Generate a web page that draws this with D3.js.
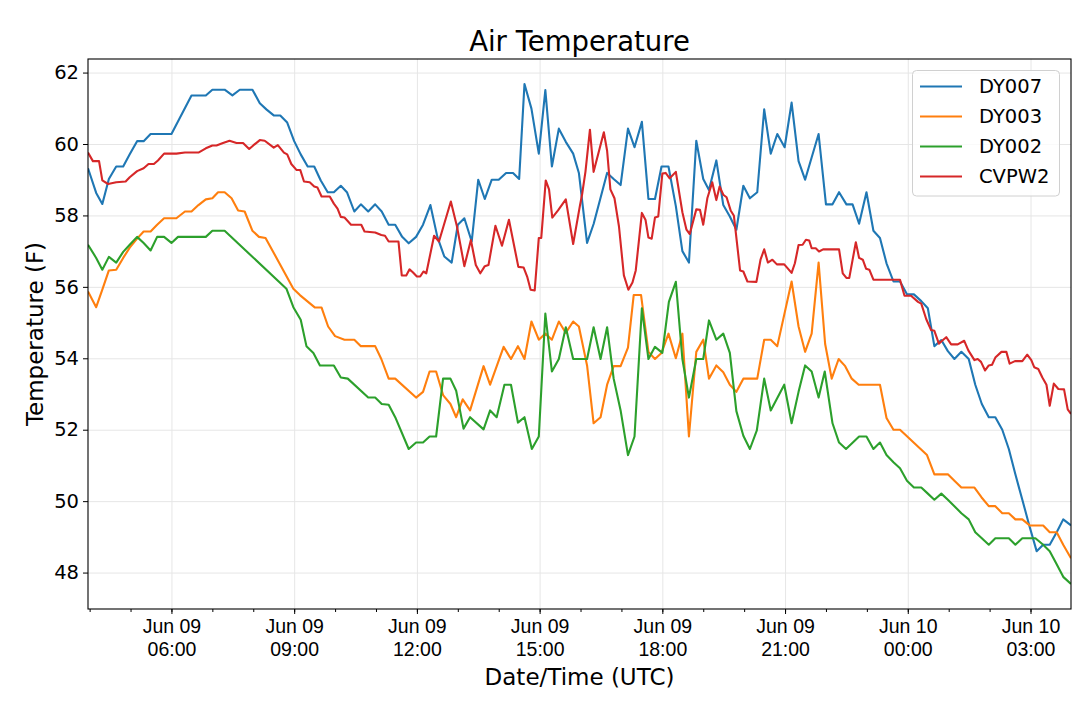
<!DOCTYPE html>
<html>
<head>
<meta charset="utf-8">
<script src="https://cdn.jsdelivr.net/npm/d3@7"></script>
<style>
  body { margin: 0; background: #fff; }
  svg { font-family: "DejaVu Sans", sans-serif; }
</style>
</head>
<body>
<svg width="1080" height="704"></svg>
<script>
// hours after 00:00 UTC Jun 09, temperature in F
var dy007 = [
  [3.96,59.32],[4.16,58.63],[4.31,58.32],[4.47,59.02],[4.65,59.37],[4.82,59.37],[4.98,59.71],[5.16,60.08],[5.32,60.08],[5.49,60.28],[6.0,60.28],[6.49,61.36],[6.84,61.36],[7.0,61.52],
  [7.3,61.52],[7.49,61.36],[7.67,61.52],[7.98,61.52],[8.16,61.14],[8.32,60.97],[8.5,60.8],[8.66,60.8],[8.83,60.6],[9.0,60.08],[9.16,59.71],[9.33,59.37],[9.49,59.37],[9.65,58.98],[9.82,58.65],[9.97,58.65],[10.14,58.83],
  [10.29,58.65],[10.47,58.11],[10.63,58.31],[10.81,58.11],[10.98,58.31],[11.14,58.11],[11.31,57.74],[11.47,57.74],[11.64,57.4],[11.8,57.22],[11.98,57.4],[12.15,57.74],[12.33,58.29],[12.5,57.4],[12.67,56.85],[12.85,56.68],[13.0,57.74],[13.16,57.92],
  [13.34,57.27],[13.5,59.0],[13.66,58.46],[13.83,59.0],[14.0,59.0],[14.18,59.19],[14.35,59.19],[14.5,59.02],[14.63,61.68],[14.8,60.99],[14.98,59.73],[15.14,61.51],[15.3,59.37],[15.47,60.43],[15.64,60.06],[15.82,59.73],[15.96,59.19],
  [16.16,57.23],[16.32,57.76],[16.65,59.19],[16.81,59.02],[16.98,58.85],[17.16,60.43],[17.32,59.91],[17.5,60.62],[17.66,58.46],[17.82,58.46],[17.98,59.37],[18.15,59.37],[18.33,58.26],[18.49,57.0],[18.65,56.68],[18.83,60.09],[19.0,59.02],
  [19.14,58.71],[19.32,59.54],[19.49,58.29],[19.65,57.97],[19.81,57.6],[19.98,58.83],[20.14,58.48],[20.32,58.65],[20.49,60.97],[20.65,59.73],[20.81,60.28],[20.99,59.91],[21.16,61.16],[21.33,59.52],[21.49,59.0],[21.65,59.62],[21.82,60.28],[22.0,58.31],
  [22.16,58.31],[22.32,58.65],[22.5,58.31],[22.65,58.31],[22.81,57.77],[22.99,58.65],[23.16,57.57],[23.32,57.37],[23.48,56.66],[23.65,56.15],[23.81,56.15],[23.98,55.79],[24.15,55.79],[24.33,55.6],[24.49,55.4],[24.65,54.34],[24.82,54.51],
  [24.98,54.2],[25.14,53.98],[25.31,54.18],[25.49,53.98],[25.65,53.26],[25.81,52.72],[25.98,52.35],[26.14,52.35],[26.31,52.0],[26.47,51.46],[26.63,50.75],[26.8,50.04],[26.97,49.32],[27.15,48.6],[27.31,48.78],[27.47,48.78],[27.64,49.13],[27.8,49.49],[27.99,49.32]
];

var dy003 = [
  [3.96,55.87],[4.16,55.43],[4.31,55.92],[4.47,56.46],[4.65,56.48],[4.82,56.81],[4.98,57.1],[5.16,57.35],[5.32,57.55],[5.49,57.55],[5.65,57.74],[5.82,57.92],[6.12,57.92],[6.33,58.11],[6.49,58.11],[6.66,58.29],[6.84,58.45],[7.0,58.48],[7.14,58.65],
  [7.3,58.65],[7.47,58.48],[7.63,58.14],[7.79,58.11],[7.98,57.57],[8.14,57.4],[8.3,57.37],[8.98,55.95],[9.14,55.77],[9.51,55.42],[9.67,55.42],[9.83,54.89],[10.0,54.62],
  [10.23,54.52],[10.47,54.52],[10.63,54.34],[10.98,54.34],[11.13,53.98],[11.31,53.43],[11.47,53.43],[11.98,52.9],[12.15,53.06],[12.31,53.63],[12.47,53.63],[12.64,52.97],[12.82,52.72],[12.96,52.35],[13.12,52.85],
  [13.3,52.54],[13.63,53.78],[13.79,53.26],[14.12,54.32],[14.3,53.98],[14.47,54.34],[14.63,53.98],[14.8,55.03],[14.98,54.52],[15.14,54.69],[15.3,54.52],[15.47,55.03],[15.64,54.71],[15.82,55.03],[15.96,54.89],
  [16.16,53.8],[16.32,52.18],[16.49,52.35],[16.65,53.26],[16.81,53.78],[16.98,53.78],[17.16,54.3],[17.3,55.77],[17.48,55.77],[17.66,54.18],[17.82,53.98],[17.98,54.15],[18.15,54.69],[18.33,54.0],[18.49,54.69],[18.65,51.81],[18.83,54.18],[19.0,54.52],
  [19.14,53.43],[19.32,53.8],[19.49,53.61],[19.65,53.26],[19.81,53.06],[19.98,53.43],[20.32,53.43],[20.49,54.52],[20.65,54.52],[20.81,54.34],[21.16,56.15],[21.33,54.89],[21.49,54.18],[21.65,54.69],[21.82,56.68],[21.98,54.4],
  [22.14,53.43],[22.31,53.98],[22.47,53.78],[22.63,53.43],[22.8,53.26],[23.32,53.26],[23.48,52.33],[23.65,52.0],[23.81,52.0],[24.47,51.29],[24.65,50.75],[24.98,50.75],
  [25.14,50.57],[25.31,50.38],[25.63,50.38],[25.8,50.11],[25.98,49.86],[26.14,49.86],[26.31,49.66],[26.47,49.66],[26.63,49.49],[26.8,49.49],[26.98,49.32],[27.31,49.32],[27.47,49.13],[27.64,49.13],[27.8,48.78],[27.99,48.4]
];

var dy002 = [
  [3.96,57.18],[4.16,56.81],[4.31,56.48],[4.47,56.84],[4.65,56.68],[4.82,56.98],[4.98,57.18],[5.16,57.4],[5.32,57.23],[5.49,57.02],[5.65,57.4],[5.82,57.4],[6.0,57.23],[6.16,57.4],[6.84,57.4],[7.0,57.57],
  [7.3,57.57],[8.81,55.95],[8.98,55.43],[9.16,55.08],[9.3,54.34],[9.47,54.15],[9.63,53.8],[9.97,53.8],
  [10.14,53.46],[10.31,53.43],[10.81,52.9],[10.98,52.9],[11.14,52.72],[11.31,52.7],[11.47,52.35],[11.8,51.46],[11.98,51.64],[12.15,51.64],[12.31,51.81],[12.47,51.81],[12.64,53.43],[12.82,53.43],[12.96,53.09],[13.14,52.03],
  [13.3,52.35],[13.63,52.01],[13.79,52.54],[13.95,52.35],[14.14,53.26],[14.3,53.26],[14.47,52.2],[14.63,52.35],[14.81,51.46],[14.98,51.81],[15.14,55.25],[15.3,53.63],[15.47,53.98],[15.64,54.87],[15.82,53.98],[16.16,53.98],
  [16.32,54.87],[16.49,53.98],[16.65,54.87],[16.81,53.43],[16.98,52.54],[17.16,51.29],[17.32,51.81],[17.5,55.4],[17.66,53.98],[17.82,54.32],[18.0,54.15],[18.16,55.58],[18.33,56.14],[18.49,53.98],[18.65,52.9],[18.83,53.98],[19.0,53.98],
  [19.14,55.06],[19.32,54.52],[19.49,54.69],[19.65,54.15],[19.81,52.52],[19.98,51.83],[20.14,51.46],[20.31,51.98],[20.49,53.43],[20.65,52.54],[20.98,53.26],[21.16,52.18],[21.33,53.06],[21.49,53.8],[21.65,53.63],[21.82,52.9],[21.97,53.63],
  [22.16,52.18],[22.32,51.64],[22.49,51.46],[22.81,51.81],[22.99,51.81],[23.16,51.46],[23.32,51.64],[23.48,51.29],[23.65,51.09],[23.81,50.92],[23.98,50.57],[24.15,50.38],[24.33,50.38],[24.49,50.21],[24.65,50.04],[24.82,50.21],
  [24.98,50.04],[25.14,49.86],[25.31,49.66],[25.49,49.49],[25.65,49.13],[25.81,48.96],[25.98,48.78],[26.14,48.96],[26.47,48.96],[26.63,48.78],[26.8,48.96],[27.12,48.96],[27.31,48.78],[27.47,48.6],[27.64,48.23],[27.8,47.88],[27.99,47.68]
];

var cvpw2 = [
  [3.96,59.76],[4.08,59.52],[4.23,59.52],[4.31,58.98],[4.45,58.88],[4.65,58.93],[4.88,58.95],[4.98,59.07],[5.16,59.24],[5.32,59.32],[5.44,59.44],[5.57,59.44],[5.67,59.54],[5.82,59.73],[6.12,59.73],[6.33,59.76],[6.66,59.76],[6.84,59.88],[7.0,59.96],
  [7.1,59.96],[7.26,60.03],[7.42,60.09],[7.59,60.03],[7.75,60.03],[7.9,59.86],[8.0,59.96],[8.16,60.11],[8.28,60.09],[8.5,59.9],[8.6,59.97],[8.75,59.76],[8.83,59.71],[8.93,59.44],[9.06,59.27],[9.15,59.27],[9.24,58.95],[9.38,58.93],[9.49,58.81],[9.57,58.78],[9.67,58.53],[9.87,58.53],[9.97,58.33],[10.06,58.19],
  [10.14,57.96],[10.23,57.94],[10.39,57.74],[10.64,57.74],[10.72,57.55],[10.98,57.52],[11.13,57.45],[11.22,57.43],[11.31,57.27],[11.55,57.27],[11.63,56.32],[11.74,56.32],[11.82,56.49],[11.9,56.41],[12.0,56.29],[12.08,56.29],[12.16,56.43],[12.23,56.38],[12.42,57.43],[12.54,57.27],[12.83,58.39],[12.98,57.69],
  [13.16,56.58],[13.32,57.31],[13.44,56.61],[13.55,56.38],[13.66,56.58],[13.75,56.61],[13.92,57.71],[14.08,57.15],[14.25,57.88],[14.48,56.56],[14.61,56.54],[14.7,56.27],[14.78,55.92],[14.88,55.9],[14.98,57.37],[15.04,57.37],[15.15,58.98],[15.23,58.73],[15.31,57.94],[15.45,58.14],[15.64,58.45],[15.82,57.2],[15.98,58.24],
  [16.04,58.6],[16.12,59.22],[16.23,60.4],[16.32,59.22],[16.57,60.33],[16.65,59.81],[16.73,58.73],[16.83,58.48],[16.94,57.69],[17.06,56.32],[17.17,55.92],[17.27,56.12],[17.35,56.46],[17.5,58.07],[17.59,57.87],[17.66,57.38],[17.74,57.35],[17.82,57.94],[17.9,57.97],[18.0,59.17],[18.08,59.19],[18.18,59.04],[18.33,59.22],[18.49,58.09],[18.59,57.6],[18.67,57.48],[18.83,58.17],[18.92,58.16],[19.0,57.74],
  [19.1,58.48],[19.22,58.93],[19.32,58.43],[19.4,58.81],[19.49,58.58],[19.57,58.51],[19.67,58.14],[19.75,57.99],[19.9,56.46],[19.98,56.43],[20.08,56.15],[20.3,56.14],[20.4,56.76],[20.49,57.05],[20.58,56.68],[20.69,56.76],[20.8,56.63],[20.98,56.63],[21.16,56.39],[21.24,56.66],[21.33,57.17],[21.43,57.18],[21.51,57.32],[21.59,57.3],[21.65,57.08],[21.75,57.08],[21.83,56.99],[21.93,57.05],
  [22.32,57.05],[22.41,56.38],[22.5,56.25],[22.57,56.25],[22.73,57.25],[22.81,56.81],[22.9,56.76],[22.98,56.51],[23.06,56.48],[23.16,56.2],[23.81,56.2],[23.92,55.75],[24.08,55.75],[24.25,55.58],[24.33,55.53],[24.45,55.1],[24.57,54.79],[24.65,54.77],[24.76,54.41],[24.86,54.51],[24.94,54.59],
  [25.06,54.39],[25.22,54.39],[25.38,54.49],[25.48,54.22],[25.63,53.95],[25.71,53.98],[25.79,53.9],[25.89,53.66],[25.98,53.8],[26.06,53.82],[26.14,54.02],[26.29,54.18],[26.41,54.18],[26.49,53.85],[26.62,53.92],[26.8,53.92],[26.92,54.1],[27.02,53.95],[27.09,53.75],[27.19,53.7],[27.29,53.46],[27.39,53.26],[27.47,52.67],[27.57,53.29],[27.68,53.14],[27.82,53.13],[27.91,52.57],[27.99,52.44]
];

var seriesNames = ['DY007', 'DY003', 'DY002', 'CVPW2'];
var seriesData = [dy007, dy003, dy002, cvpw2];
var colors = ['#1f77b4', '#ff7f0e', '#2ca02c', '#d62728'];
var yTicks = [48, 50, 52, 54, 56, 58, 60, 62];

var day0 = Date.UTC(2018, 5, 9);
function toDate(h) { return new Date(day0 + h * 3600e3); }

var margin = { left: 88, right: 1071, top: 59, bottom: 609 };
var svg = d3.select('svg');

var allPoints = d3.merge(seriesData);
var xScale = d3.scaleUtc()
  .domain(d3.extent(allPoints, d => toDate(d[0])))
  .range([margin.left, margin.right]);

// matplotlib style 5% padding on y
var yExt = d3.extent(allPoints, d => d[1]);
var yPad = (yExt[1] - yExt[0]) * 0.05;
var yScale = d3.scaleLinear()
  .domain([yExt[0] - yPad, yExt[1] + yPad])
  .range([margin.bottom, margin.top]);

var plotW = margin.right - margin.left;
var plotH = margin.bottom - margin.top;

// grid
svg.append('g')
  .attr('transform', 'translate(0,' + margin.bottom + ')')
  .call(d3.axisBottom(xScale).ticks(d3.utcHour.every(3)).tickSize(-plotH).tickFormat(''))
  .call(g => g.select('.domain').remove())
  .selectAll('line').attr('class', 'grid').attr('stroke', '#e6e6e6').attr('stroke-width', 1);

svg.append('g')
  .attr('transform', 'translate(' + margin.left + ',0)')
  .call(d3.axisLeft(yScale).tickValues(yTicks).tickSize(-plotW).tickFormat(''))
  .call(g => g.select('.domain').remove())
  .selectAll('line').attr('class', 'grid').attr('stroke', '#e6e6e6').attr('stroke-width', 1);

// lines
svg.append('clipPath').attr('id', 'clip')
  .append('rect')
  .attr('x', margin.left).attr('y', margin.top)
  .attr('width', plotW).attr('height', plotH);

var line = d3.line()
  .x(d => xScale(toDate(d[0])))
  .y(d => yScale(d[1]));

svg.append('g')
  .attr('clip-path', 'url(#clip)')
  .selectAll('path')
  .data(seriesData)
  .enter()
  .append('path')
  .attr('d', line)
  .attr('fill', 'none')
  .attr('stroke', (d, i) => colors[i])
  .attr('stroke-width', 2.1)
  .attr('stroke-linejoin', 'round');

// frame
svg.append('rect')
  .attr('x', margin.left).attr('y', margin.top)
  .attr('width', plotW).attr('height', plotH)
  .attr('fill', 'none')
  .attr('stroke', '#000')
  .attr('stroke-width', 1.1);

// x axis: minor ticks every hour, major every 3 hours
svg.append('g')
  .attr('transform', 'translate(0,' + margin.bottom + ')')
  .call(d3.axisBottom(xScale).ticks(d3.utcHour.every(1)).tickSize(3).tickFormat(''))
  .call(g => g.select('.domain').remove());

var fmtDay = d3.utcFormat('%b %d');
var fmtTime = d3.utcFormat('%H:%M');

var xAxisG = svg.append('g')
  .attr('transform', 'translate(0,' + margin.bottom + ')')
  .call(d3.axisBottom(xScale).ticks(d3.utcHour.every(3)).tickSize(5).tickFormat(''))
  .call(g => g.select('.domain').remove());

xAxisG.selectAll('.tick').each(function (d) {
  var t = d3.select(this).append('text')
    .attr('fill', '#000')
    .attr('text-anchor', 'middle')
    .style('font-size', '19.5px');
  t.append('tspan').attr('x', 0).attr('y', 24).text(fmtDay(d));
  t.append('tspan').attr('x', 0).attr('y', 47).text(fmtTime(d));
});

// y axis
svg.append('g')
  .attr('transform', 'translate(' + margin.left + ',0)')
  .call(d3.axisLeft(yScale).tickValues(yTicks).tickSize(5).tickPadding(4).tickFormat(d3.format('d')))
  .call(g => g.select('.domain').remove())
  .selectAll('text')
  .attr('fill', '#000')
  .style('font-size', '19.5px')
  .style('font-family', '"DejaVu Sans", sans-serif');

svg.selectAll('.tick line:not(.grid)').attr('stroke', '#000');

// titles
svg.append('text')
  .attr('x', (margin.left + margin.right) / 2)
  .attr('y', 51)
  .attr('text-anchor', 'middle')
  .style('font-size', '27.5px')
  .text('Air Temperature');

svg.append('text')
  .attr('x', (margin.left + margin.right) / 2)
  .attr('y', 685)
  .attr('text-anchor', 'middle')
  .style('font-size', '23px')
  .text('Date/Time (UTC)');

svg.append('text')
  .attr('transform', 'rotate(-90)')
  .attr('x', -(margin.top + margin.bottom) / 2)
  .attr('y', 43)
  .attr('text-anchor', 'middle')
  .style('font-size', '23px')
  .text('Temperature (F)');

// legend
var legend = svg.append('g');
legend.append('rect')
  .attr('x', 912.5).attr('y', 70.5)
  .attr('width', 147).attr('height', 125.5)
  .attr('rx', 4)
  .attr('fill', 'rgba(255,255,255,0.8)')
  .attr('stroke', '#d0d0d0')
  .attr('stroke-width', 1);

var items = legend.selectAll('.item')
  .data(seriesNames)
  .enter()
  .append('g')
  .attr('transform', (d, i) => 'translate(0,' + (86.5 + i * 30) + ')');

items.append('line')
  .attr('x1', 920).attr('x2', 962)
  .attr('stroke', (d, i) => colors[i])
  .attr('stroke-width', 2.1);

items.append('text')
  .attr('x', 979)
  .attr('dy', '0.35em')
  .style('font-size', '19.5px')
  .text(d => d);
</script>
</body>
</html>
